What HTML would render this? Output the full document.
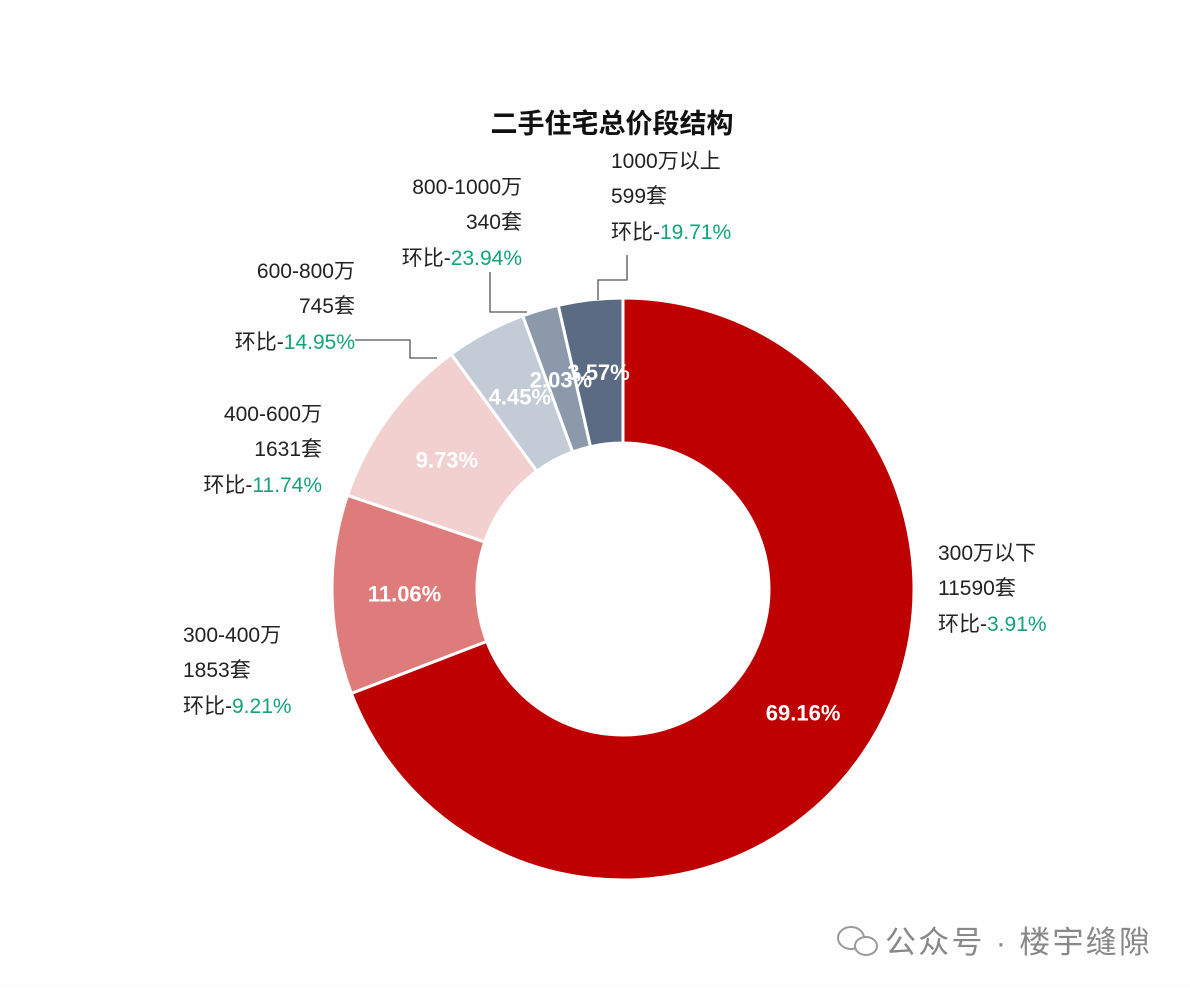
<!DOCTYPE html>
<html><head><meta charset="utf-8">
<style>
body{margin:0;background:#fff;}
svg text{font-family:"Liberation Sans","Noto Sans CJK SC",sans-serif;}
</style></head>
<body>
<svg id="chart" width="1190" height="990" viewBox="0 0 1190 990">
<rect width="1190" height="990" fill="#fefefe"/>
<text x="612" y="133" text-anchor="middle" font-size="27" font-weight="bold" fill="#111">二手住宅总价段结构</text>
<g id="slices"></g>
<g id="pcts"></g>
<g id="labels"></g>
<g>
<ellipse cx="851" cy="938" rx="13" ry="11" fill="none" stroke="#999" stroke-width="2"/>
<ellipse cx="866" cy="946" rx="11" ry="9" fill="#fff" stroke="#999" stroke-width="2"/>
<text x="885" y="953" font-size="31" fill="#888" textLength="265">公众号 · 楼宇缝隙</text>
</g>
</svg>
<script>
const categories=["300万以下","300-400万","400-600万","600-800万","800-1000万","1000万以上"];
const shares=[69.16,11.06,9.73,4.45,2.03,3.57];
const counts=[11590,1853,1631,745,340,599];
const changes=["3.91%","9.21%","11.74%","14.95%","23.94%","19.71%"];
const colors=["#be0000","#de7c7c","#f3d0d0","#c3cbd6","#8b99ab","#5b6b83"];
const labelPos=[[938,560,"start"],[183,642,"start"],[322,421,"end"],[355,278,"end"],[522,194,"end"],[611,168,"start"]];
const leaders=[null,null,null,"437,358 410,358 410,340 355,340","527,312 490,312 490,272","598,300 598,280 627,280 627,255"];
const cx=623,cy=589,R=291,r=146;
const NS="http://www.w3.org/2000/svg";
const total=shares.reduce((a,b)=>a+b,0);
function pt(a,rad){return [cx+rad*Math.sin(a),cy-rad*Math.cos(a)];}
let a0=0;
const gS=document.getElementById('slices'),gP=document.getElementById('pcts'),gL=document.getElementById('labels');
shares.forEach((v,i)=>{
  const a1=a0+v/total*2*Math.PI;
  const large=(a1-a0)>Math.PI?1:0;
  const [x0,y0]=pt(a0,R),[x1,y1]=pt(a1,R),[x2,y2]=pt(a1,r),[x3,y3]=pt(a0,r);
  const p=document.createElementNS(NS,'path');
  p.setAttribute('d',`M${x0},${y0}A${R},${R} 0 ${large} 1 ${x1},${y1}L${x2},${y2}A${r},${r} 0 ${large} 0 ${x3},${y3}Z`);
  p.setAttribute('fill',colors[i]);p.setAttribute('stroke','#fff');p.setAttribute('stroke-width','3');
  
  
  gS.appendChild(p);
  const [tx,ty]=pt((a0+a1)/2,(R+r)/2);
  const t=document.createElementNS(NS,'text');
  t.setAttribute('x',tx);t.setAttribute('y',ty+8);t.setAttribute('text-anchor','middle');
  t.setAttribute('font-size','22');t.setAttribute('font-weight','bold');t.setAttribute('fill','#fff');
  t.textContent=v.toFixed(2)+'%';
  
  
  gP.appendChild(t);
  const [lx,ly,anc]=labelPos[i];
  const lab=document.createElementNS(NS,'text');
  lab.setAttribute('font-size','21');lab.setAttribute('fill','#222');lab.setAttribute('text-anchor',anc);
  
  
  lab.innerHTML=`<tspan x="${lx}" y="${ly}">${categories[i]}</tspan><tspan x="${lx}" y="${ly+35}">${counts[i]}套</tspan><tspan x="${lx}" y="${ly+71}">环比-<tspan fill="#12a37a">${changes[i]}</tspan></tspan>`;
  gL.appendChild(lab);
  if(leaders[i]){
    const pl=document.createElementNS(NS,'polyline');
    pl.setAttribute('points',leaders[i]);pl.setAttribute('fill','none');pl.setAttribute('stroke','#555');pl.setAttribute('stroke-width','1.3');
    
    
    gL.appendChild(pl);
  }
  a0=a1;
});
</script>
</body></html>
